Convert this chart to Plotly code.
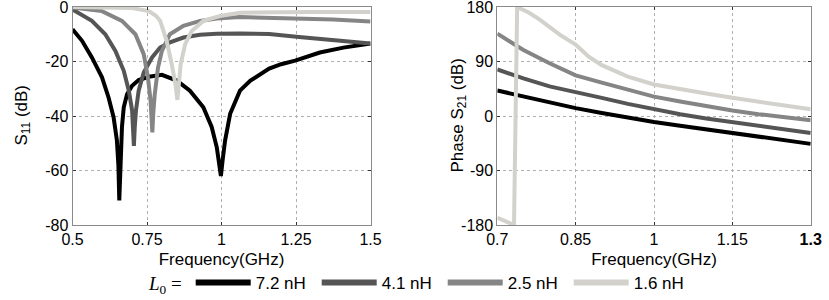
import plotly.graph_objects as go

# ---------------- data ----------------
legend_labels = ["7.2 nH", "4.1 nH", "2.5 nH", "1.6 nH"]
colors = ["#000000", "#555555", "#858585", "#d2d1cc"]

# S11 (dB) curves
f_s11_72 = [0.5, 0.532, 0.565, 0.599, 0.621, 0.638, 0.649, 0.654, 0.657, 0.661, 0.666, 0.672, 0.683, 0.7,
            0.722, 0.756, 0.8, 0.85, 0.894, 0.939, 0.967, 0.984, 0.993, 0.998, 1.004, 1.012, 1.029, 1.062,
            1.097, 1.16, 1.2, 1.247, 1.33, 1.409, 1.5]
s11_72 = [-8.2, -12.4, -18.5, -25.8, -33.2, -40.5, -49, -58, -71, -56, -44, -36.8, -32, -28.9,
          -26.8, -25.6, -24.9, -27, -30.7, -36.8, -44, -51.4, -57, -62, -56, -49, -39.2, -30.7,
          -27, -22.6, -21, -19.7, -16.7, -14.9, -13.4]

f_s11_41 = [0.5, 0.565, 0.61, 0.644, 0.672, 0.689, 0.7, 0.704, 0.706, 0.709, 0.713, 0.722, 0.739, 0.767,
            0.794, 0.827, 0.872, 0.928, 0.984, 1.062, 1.16, 1.26, 1.375, 1.5]
s11_41 = [-0.9, -5.1, -10, -16.1, -23.4, -30.7, -38, -45, -51, -44, -38, -30.7, -24, -18.5,
          -14.9, -13, -11.2, -10.2, -9.8, -9.7, -9.9, -11, -12.2, -13.4]

f_s11_25 = [0.5, 0.599, 0.666, 0.711, 0.739, 0.753, 0.762, 0.766, 0.768, 0.771, 0.776, 0.787, 0.8, 0.827,
            0.872, 0.928, 0.984, 1.062, 1.16, 1.26, 1.375, 1.5]
s11_25 = [-0.2, -1.5, -5.1, -10, -17.3, -25.8, -34.4, -41, -46, -39, -32, -22.2, -16.1, -10,
          -6.9, -5.1, -4.2, -3.7, -3.9, -4.0, -4.6, -5.3]

f_s11_16 = [0.5, 0.6, 0.7, 0.756, 0.78, 0.794, 0.816, 0.833, 0.845, 0.852, 0.857, 0.863, 0.878, 0.9,
            0.939, 0.995, 1.062, 1.16, 1.3, 1.5]
s11_16 = [0, -0.1, -0.4, -1.5, -3.2, -5, -12.4, -21, -28, -34.1, -28, -21, -13.6, -8.8,
          -5.1, -3.3, -2.1, -1.9, -1.8, -1.8]

# Phase S21 curves
f_ph = [0.7, 0.75, 0.8, 0.85, 0.9, 0.95, 1.0, 1.05, 1.1, 1.15, 1.2, 1.25, 1.3]
ph_72 = [42, 32, 22, 13, 5, -3, -10, -16, -22, -28, -34, -40, -46]
ph_41 = [77, 62, 49, 40, 30, 20, 11, 3, -4, -10, -17, -22, -28]
ph_25 = [136, 109, 87, 67, 55, 43, 32, 24, 16, 9, 3, -2, -7]
f_ph_16 = [0.7, 0.732, 0.738, 0.76, 0.78, 0.8, 0.82, 0.85, 0.875, 0.9, 0.95, 1.0, 1.05, 1.1, 1.15,
           1.2, 1.25, 1.3]
ph_16 = [-168, -180, 180, 171, 160, 147, 134, 118, 98, 84, 65, 52, 44, 37, 30, 24, 17, 11]

# axis ticks
s11_xticks = [0.5, 0.75, 1, 1.25, 1.5]
s11_xtext = ["0.5", "0.75", "1", "1.25", "1.5"]
s11_yticks = [-80, -60, -40, -20, 0]
s11_ytext = ["-80", "-60", "-40", "-20", "0"]
ph_xticks = [0.7, 0.85, 1, 1.15, 1.3]
ph_xtext = ["0.7", "0.85", "1", "1.15", "<b>1.3</b>"]
ph_yticks = [-180, -90, 0, 90, 180]
ph_ytext = ["-180", "-90", "0", "90", "180"]

# ---------------- figure ----------------
fig = go.Figure()
s11_sets = [(f_s11_72, s11_72), (f_s11_41, s11_41), (f_s11_25, s11_25), (f_s11_16, s11_16)]
ph_sets = [(f_ph, ph_72), (f_ph, ph_41), (f_ph, ph_25), (f_ph_16, ph_16)]

for (fx, fy), c in zip(s11_sets, colors):
    fig.add_trace(go.Scatter(x=fx, y=fy, mode="lines", line=dict(color=c, width=4),
                             showlegend=False, xaxis="x", yaxis="y", hoverinfo="skip"))
for (fx, fy), c in zip(ph_sets, colors):
    fig.add_trace(go.Scatter(x=fx, y=fy, mode="lines", line=dict(color=c, width=4),
                             showlegend=False, xaxis="x2", yaxis="y2", hoverinfo="skip"))
for name, c in zip(legend_labels, colors):
    fig.add_trace(go.Scatter(x=[None], y=[None], mode="lines", name=name,
                             line=dict(color=c, width=6), xaxis="x", yaxis="y"))

font = dict(family="Liberation Sans, Arial, sans-serif", size=16, color="#000")
axis_common = dict(showline=True, linecolor="#8a8a8a", linewidth=1, mirror="ticks",
                   ticks="inside", ticklen=3, tickcolor="#333", showgrid=True,
                   gridcolor="#b0b0b0", griddash="dot", gridwidth=1, zeroline=False,
                   tickfont=font, automargin=False, ticklabeloverflow="allow")

y_dom = [0.25, 1 - 7 / 300]

fig.update_layout(
    width=829, height=300,
    margin=dict(l=0, r=0, t=0, b=0, autoexpand=False),
    paper_bgcolor="white", plot_bgcolor="white",
    font=font,
    xaxis=dict(domain=[72.5 / 829, 370.5 / 829], range=[0.5, 1.5], tickvals=s11_xticks,
               ticktext=s11_xtext, anchor="y",
               title=dict(text="Frequency(GHz)", font=dict(size=17), standoff=5), **axis_common),
    yaxis=dict(domain=y_dom, range=[-80, 0], tickvals=s11_yticks, ticktext=s11_ytext,
               anchor="x", **axis_common),
    xaxis2=dict(domain=[497.3 / 829, 810.7 / 829], range=[0.7, 1.3], tickvals=ph_xticks,
                ticktext=ph_xtext, anchor="y2",
                title=dict(text="Frequency(GHz)", font=dict(size=17), standoff=5), **axis_common),
    yaxis2=dict(domain=y_dom, range=[-180, 180], tickvals=ph_yticks, ticktext=ph_ytext,
                anchor="x2", **axis_common),
    legend=dict(orientation="h", x=147 / 829, xanchor="left", y=1 - 283 / 300, yanchor="middle",
                yref="paper", font=dict(size=17), itemwidth=55, entrywidth=56,
                entrywidthmode="pixels", bgcolor="rgba(0,0,0,0)",
                title=dict(text="<i>L</i><sub>0</sub> =", side="left",
                           font=dict(family="Liberation Serif, Times New Roman, serif", size=19))),
    annotations=[
        dict(text="S<sub>11</sub> (dB)", x=22 / 829, y=1 - 115.5 / 300, xref="paper", yref="paper",
             textangle=-90, showarrow=False, xanchor="center", yanchor="middle", font=dict(size=17)),
        dict(text="Phase S<sub>21</sub> (dB)", x=458 / 829, y=1 - 115.5 / 300, xref="paper",
             yref="paper", textangle=-90, showarrow=False, xanchor="center", yanchor="middle",
             font=dict(size=17)),
    ],
)

fig.write_html("out.html", config={"displayModeBar": False},
               post_script="document.body.style.margin='0';document.body.style.padding='0';"
                           "document.body.style.overflow='hidden';")
